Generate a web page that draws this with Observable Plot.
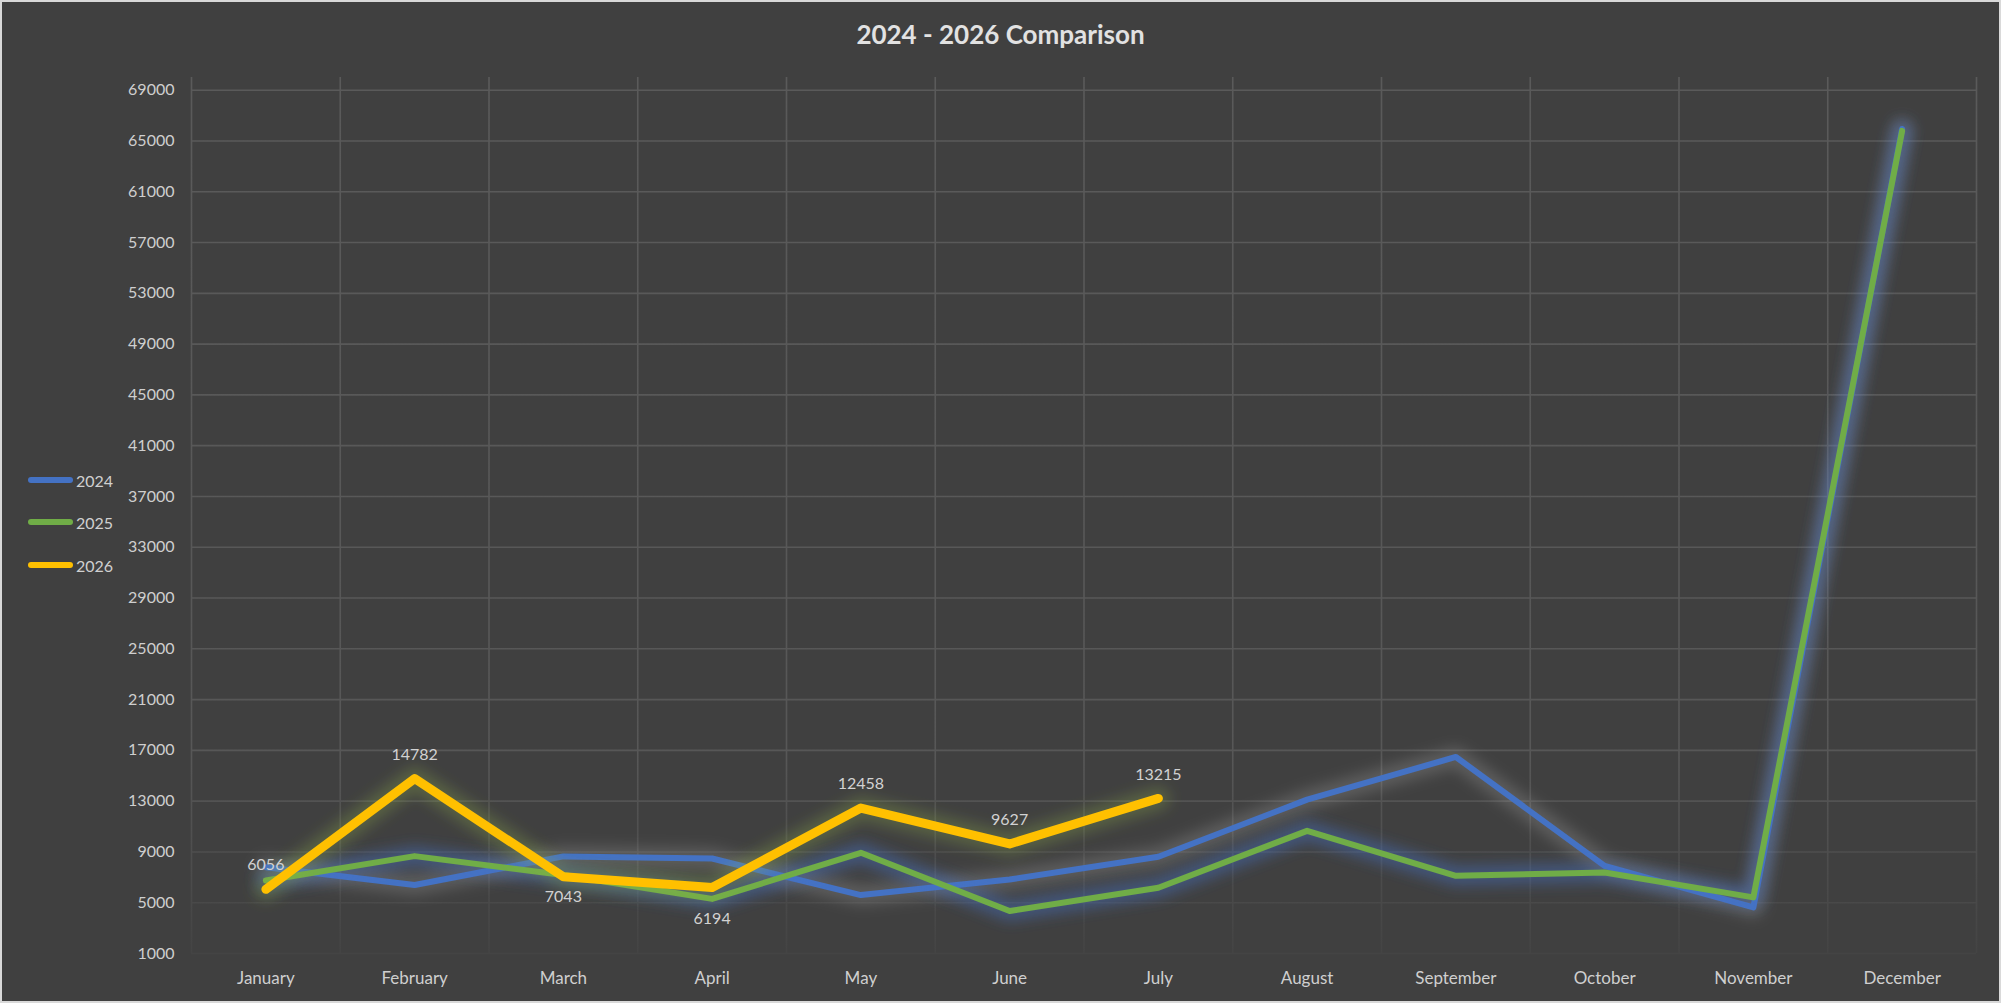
<!DOCTYPE html>
<html>
<head>
<meta charset="utf-8">
<script src="https://cdn.jsdelivr.net/npm/d3@7"></script>
<script src="https://cdn.jsdelivr.net/npm/@observablehq/plot@0.6"></script>
<style>
html, body { margin: 0; padding: 0; background: #404040; }
#chart { position: relative; width: 2001px; height: 1003px; background: #404040; overflow: hidden; font-family: Lato, "Open Sans", sans-serif; }
#frame { position: absolute; left: 0; top: 0; width: 2001px; height: 1003px; box-sizing: border-box; border: 2px solid #d9d9d9; pointer-events: none; }
#title { position: absolute; left: 0; top: 19px; width: 2001px; text-align: center; font-weight: 700; font-size: 26px; line-height: 30px; color: #e2e2e2; }
.item { position: absolute; left: 28px; height: 20px; display: flex; align-items: center; white-space: nowrap; }
.swatch { width: 45px; height: 6px; border-radius: 3px; margin-right: 3px; }
.item span { font-size: 16px; color: #d0d0d0; }
#plot { position: absolute; left: 0; top: 0; }
</style>
</head>
<body>
<div id="chart">
  <div id="plot"></div>
  <div id="title">2024 - 2026 Comparison</div>
  <div id="legend"></div>
  <div id="frame"></div>
</div>
<script>
// ---- data ----
const months = ["January", "February", "March", "April", "May", "June", "July", "August", "September", "October", "November", "December"];
const sales2024 = [7800, 6400, 8650, 8480, 5600, 6830, 8620, 13120, 16480, 7900, 4630, 65950];
const sales2025 = [6750, 8670, 7180, 5300, 8930, 4350, 6180, 10660, 7120, 7380, 5420, 65800];
const sales2026 = [6056, 14782, 7043, 6194, 12458, 9627, 13215];
const seriesNames = ["2024", "2025", "2026"];
const yTicks = [1000, 5000, 9000, 13000, 17000, 21000, 25000, 29000, 33000, 37000, 41000, 45000, 49000, 53000, 57000, 61000, 65000, 69000];
const yDomain = [1000, 70000];

// ---- styles ----
const styles = {
  "2024": {color: "#4472c4", width: 6, glow: "#b0b0b0", glowOpacity: 0.26},
  "2025": {color: "#70ad47", width: 6, glow: "#4472c4", glowOpacity: 0.45},
  "2026": {color: "#ffc000", width: 9, glow: "#8fb04a", glowOpacity: 0.3}
};

const seriesValues = [sales2024, sales2025, sales2026];
const rows = seriesNames.map((name, k) => seriesValues[k].map((v, i) => ({series: name, month: i, value: v})));
const boundaries = d3.range(months.length + 1).map(i => i - 0.5);

const lineMarks = [];
seriesNames.forEach((name, k) => {
  const s = styles[name];
  lineMarks.push(Plot.lineY(rows[k], {x: "month", y: "value", stroke: s.glow, strokeOpacity: s.glowOpacity, strokeWidth: s.width + 14, strokeLinejoin: "round", strokeLinecap: "round"}));
  lineMarks.push(Plot.lineY(rows[k], {x: "month", y: "value", stroke: s.color, strokeWidth: s.width, strokeLinejoin: "round", strokeLinecap: "round"}));
});

const labels2026 = rows[2];
const above = labels2026.filter(d => !["March", "April"].includes(months[d.month]));
const belowMar = labels2026.filter(d => months[d.month] === "March");
const belowApr = labels2026.filter(d => months[d.month] === "April");
const labelOpts = {x: "month", y: "value", text: d => String(d.value), fill: "#d2d2d2", fontSize: 16};

const plot = Plot.plot({
  width: 2001,
  height: 1003,
  marginTop: 77,
  marginBottom: 50,
  marginLeft: 191,
  marginRight: 25,
  style: {background: "transparent", color: "#cfcfcf", fontFamily: "Lato, 'Open Sans', sans-serif", fontSize: "16px"},
  x: {type: "linear", domain: [-0.5, months.length - 0.5], ticks: d3.range(months.length), tickFormat: i => months[i], tickSize: 0, tickPadding: 18, label: null},
  y: {domain: yDomain, ticks: yTicks, tickFormat: d => String(d), tickSize: 0, tickPadding: 17, label: null},
  marks: [
    Plot.ruleY(yTicks, {stroke: "url(#gridfade)", strokeWidth: 1.6}),
    Plot.ruleX(boundaries, {y1: yDomain[0], y2: yDomain[1], stroke: "url(#gridfade)", strokeWidth: 1.6}),
    ...lineMarks,
    Plot.text(above, {...labelOpts, dy: -24}),
    Plot.text(belowMar, {...labelOpts, dy: 20}),
    Plot.text(belowApr, {...labelOpts, dy: 31})
  ]
});

const svg = d3.select(plot);
const defs = svg.insert("defs", ":first-child");
const grad = defs.append("linearGradient").attr("id", "gridfade").attr("gradientUnits", "userSpaceOnUse")
  .attr("x1", 0).attr("x2", 0).attr("y1", 77).attr("y2", 953);
grad.append("stop").attr("offset", 0).attr("stop-color", "#5a5a5a");
grad.append("stop").attr("offset", 0.78).attr("stop-color", "#575757");
grad.append("stop").attr("offset", 1).attr("stop-color", "#444444");
const filt = defs.append("filter").attr("id", "glow").attr("filterUnits", "userSpaceOnUse")
  .attr("x", 0).attr("y", 0).attr("width", 2001).attr("height", 1003);
filt.append("feGaussianBlur").attr("stdDeviation", 7);
svg.selectAll('g[aria-label="line"]').each(function(d, i) {
  if (i % 2 === 0) d3.select(this).attr("filter", "url(#glow)");
});
svg.selectAll('g[aria-label^="x-axis"] text').attr("font-size", 17);

document.getElementById("plot").appendChild(plot);

// legend
const legend = document.getElementById("legend");
const legendCenters = [480, 522, 565];
seriesNames.forEach((name, k) => {
  const item = document.createElement("div");
  item.className = "item";
  item.style.top = (legendCenters[k] - 10) + "px";
  const sw = document.createElement("div");
  sw.className = "swatch";
  sw.style.background = styles[name].color;
  const label = document.createElement("span");
  label.textContent = name;
  item.appendChild(sw);
  item.appendChild(label);
  legend.appendChild(item);
});
</script>
</body>
</html>
